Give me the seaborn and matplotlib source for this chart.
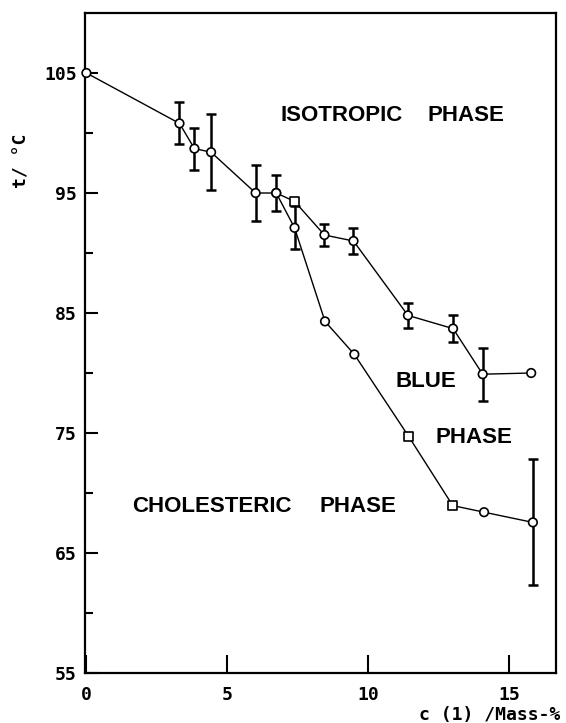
import pandas as pd
import matplotlib
matplotlib.use("Agg")
import matplotlib.pyplot as plt
import seaborn as sns

# upper branch (isotropic -> blue / cholesteric transition)
upper_x = [0.0, 3.3, 3.83, 4.42, 6.0, 6.73, 7.38, 8.44, 9.47, 11.4, 13.0, 14.05, 15.77]
upper_y = [105.0, 100.8, 98.7, 98.4, 95.0, 95.0, 94.3, 91.5, 91.0, 84.8, 83.7, 79.9, 80.0]
upper_err = [0, 1.75, 1.75, 3.15, 2.3, 1.5, 0, 0.95, 1.1, 1.05, 1.1, 2.2, 0]
upper_mk = ['o', 'o', 'o', 'o', 'o', 'o', 's', 'o', 'o', 'o', 'o', 'o', 'o']

# lower branch (blue -> cholesteric transition)
lower_x = [6.73, 7.38, 8.46, 9.5, 11.43, 12.99, 14.1, 15.83]
lower_y = [95.0, 92.1, 84.3, 81.55, 74.7, 68.95, 68.4, 67.55]
lower_err = [0, 1.8, 0, 0, 0, 0, 0, 5.25]
lower_mk = ['o', 'o', 'o', 'o', 's', 's', 'o', 'o']

x_ticks = [0, 5, 10, 15]
y_ticks = [55, 65, 75, 85, 95, 105]
y_minor = [60, 70, 80, 90, 100]

df = pd.concat([
    pd.DataFrame({'c': upper_x, 't': upper_y, 'err': upper_err, 'mk': upper_mk, 'branch': 'upper'}),
    pd.DataFrame({'c': lower_x, 't': lower_y, 'err': lower_err, 'mk': lower_mk, 'branch': 'lower'}),
], ignore_index=True)

sns.set_style("ticks")
plt.rcParams['font.family'] = ['DejaVu Sans Mono', 'DejaVu Sans']
for key in ['text.color', 'axes.edgecolor', 'axes.labelcolor', 'xtick.color', 'ytick.color']:
    plt.rcParams[key] = 'black'

fig = plt.figure(figsize=(5.66, 7.23), dpi=100)
ax = fig.add_axes([85 / 566, 1 - 673 / 723, (556 - 85) / 566, (673 - 13) / 723])

sns.lineplot(data=df, x='c', y='t', hue='branch', palette={'upper': 'black', 'lower': 'black'},
             estimator=None, sort=False, linewidth=1.0, legend=False, ax=ax, zorder=2)

eb = df[df['err'] > 0]
ax.errorbar(eb['c'], eb['t'], yerr=eb['err'], fmt='none', ecolor='black',
            elinewidth=1.8, capsize=3.5, capthick=1.8, zorder=3)

sns.scatterplot(data=df, x='c', y='t', style='mk', markers={'o': 'o', 's': 's'},
                color='white', edgecolor='black', s=38, linewidth=1.2,
                legend=False, ax=ax, zorder=4, clip_on=False)

ax.set_xlim(-0.05, 16.65)
ax.set_ylim(55, 110)
ax.set_xticks(x_ticks)
ax.set_xticklabels([str(v) for v in x_ticks])
ax.set_yticks(y_ticks)
ax.set_yticklabels([str(v) for v in y_ticks])
ax.set_yticks(y_minor, minor=True)
ax.tick_params(axis='x', direction='in', length=13, width=1.5, pad=9, labelsize=13)
ax.tick_params(axis='y', which='major', direction='in', length=9, width=1.5, pad=6, labelsize=13)
ax.tick_params(axis='y', which='minor', direction='in', length=6, width=1.5)
for lab in ax.get_xticklabels() + ax.get_yticklabels():
    lab.set_fontweight('bold')
for sp in ax.spines.values():
    sp.set_linewidth(1.6)
ax.set_xlabel('')
ax.set_ylabel('')

# region labels, one word at a time
txt = dict(family=['Liberation Sans', 'DejaVu Sans'], fontweight='bold', fontsize=16,
           ha='center', va='center', color='black')
ax.text(9.06, 101.45, 'ISOTROPIC', **txt)
ax.text(13.47, 101.45, 'PHASE', **txt)
ax.text(12.02, 79.3, 'BLUE', **txt)
ax.text(13.74, 74.6, 'PHASE', **txt)
ax.text(4.45, 68.9, 'CHOLESTERIC', **txt)
ax.text(9.61, 68.9, 'PHASE', **txt)

fig.text(22 / 566, 1 - 161 / 723, 't/ °C', rotation=90, ha='center', va='center',
         fontsize=13, fontweight='bold')
fig.text(560 / 566, 1 - 715 / 723, 'c (1) /Mass-%', ha='right', va='center',
         fontsize=13, fontweight='bold')

fig.savefig('out.png', dpi=100)
plt.close(fig)
